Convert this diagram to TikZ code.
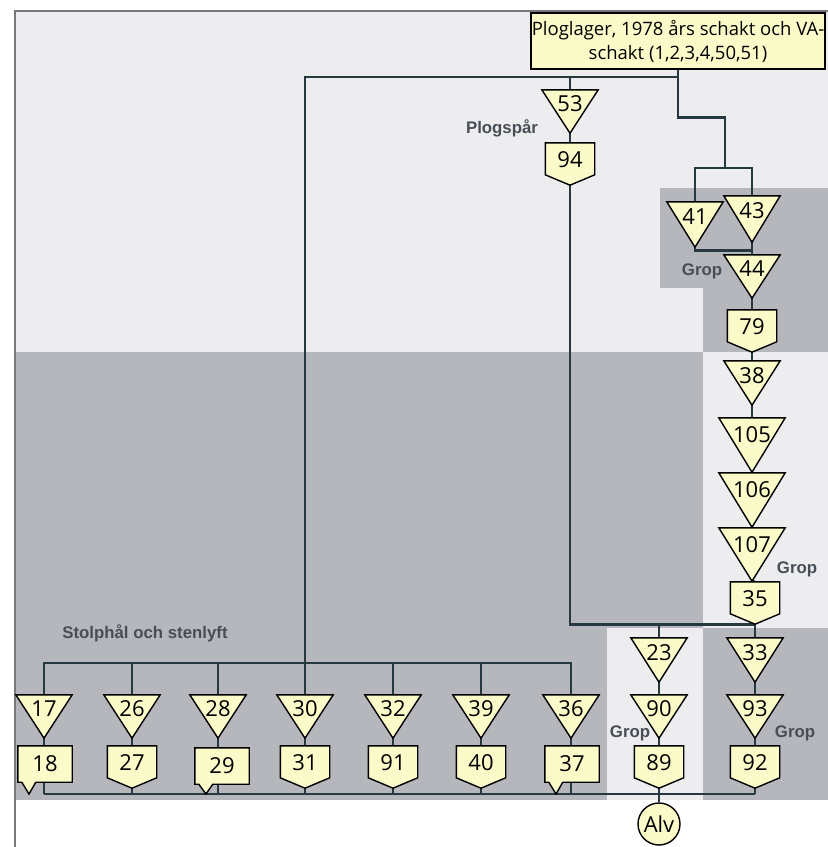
\documentclass[tikz,border=0pt]{standalone}
\usepackage{fontspec}
\setmainfont{Open Sans}
\newfontfamily\lblfont{Liberation Sans}
\usetikzlibrary{calc}
\definecolor{lightbg}{RGB}{237,237,240}
\definecolor{darkbg}{RGB}{181,183,188}
\definecolor{nodefill}{RGB}{251,251,201}
\definecolor{linecol}{RGB}{38,56,64}
\definecolor{lblcol}{RGB}{72,78,86}
\definecolor{framecol}{RGB}{120,120,124}
\pgfdeclarelayer{bg}
\pgfdeclarelayer{lines}
\pgfsetlayers{bg,lines,main}
\newcommand\mkTri[6]{%
  \node[inner sep=0pt, minimum width=#4pt, minimum height=#5pt] (#1) at (#2,#3+#5/2) {};
  \draw[shp] (#1.north west) -- (#1.north east) -- (#1.south) -- cycle;
  \node[numtxt, anchor=base] (#1l) at ($(#1.north)+(0,10+0.28*#5)$) {#6};
}
\newcommand\mkShd[4]{%
  \node[inner sep=0pt, minimum width=49pt, minimum height=42pt] (#1) at (#2,#3+21) {};
  \draw[shp] (#1.north west) -- (#1.north east) -- ++(0,32) -- (#1.south) -- ($(#1.north west)+(0,32)$) -- cycle;
  \node[numtxt, anchor=base] (#1l) at ($(#1.north)+(0,25)$) {#4};
}
\newcommand\mkCal[4]{%
  \node[inner sep=0pt, minimum width=54pt, minimum height=36pt] (#1) at (#2+27,#3+18) {};
  \draw[shp] (#1.north west) -- (#1.north east) -- (#1.south east) -- ($(#1.south west)+(18,0)$) -- (#2+11,794) -- ($(#1.south west)+(4,0)$) -- (#1.south west) -- cycle;
  \node[numtxt, anchor=base] (#1l) at ($(#1.north)+(0,26)$) {#4};
}
\begin{document}
\begin{tikzpicture}[x=1pt,y=-1pt,
  conn/.style={draw=linecol, line width=2.6pt},
  shp/.style={draw=black, fill=nodefill, line width=1.4pt, line join=miter},
  numtxt/.style={inner sep=0pt, font=\fontsize{22}{26}\selectfont},
  lbl/.style={inner sep=0pt, text=lblcol, font=\lblfont\bfseries\fontsize{16.8}{20}\selectfont}]
\useasboundingbox (0,0) rectangle (828,847);
\begin{pgfonlayer}{bg}
  \fill[white] (0,0) rectangle (828,847);
  \fill[lightbg] (14,10) rectangle (828,352);
  \fill[darkbg] (660,188) rectangle (828,288);
  \fill[darkbg] (703,288) rectangle (828,352);
  \fill[darkbg] (14,352) rectangle (703,800);
  \fill[lightbg] (607,628) rectangle (703,800);
  \fill[lightbg] (703,352) rectangle (828,628);
  \fill[darkbg] (703,628) rectangle (828,800);
  \draw[framecol, line width=1.5pt] (14.75,847) -- (14.75,10.75) -- (828,10.75);
\end{pgfonlayer}

% top box
\node[shp, inner sep=0pt, minimum width=294pt, minimum height=56pt, align=center,
      font=\fontsize{18.5}{24}\selectfont] (T) at (678,41)
      {Ploglager, 1978 års schakt och VA-\\schakt (1,2,3,4,50,51)};

% triangles
\mkTri{t53}{570}{90}{56}{43}{53}
\mkTri{t41}{695}{202}{56}{45}{41}
\mkTri{t43}{752}{196}{56}{46}{43}
\mkTri{t44}{752}{255}{56}{43}{44}
\mkTri{t38}{752}{361}{56}{44}{38}
\mkTri{t105}{752}{418}{66}{54}{105}
\mkTri{t106}{752}{473}{66}{54}{106}
\mkTri{t107}{752}{528}{66}{53}{107}
\mkTri{t23}{659}{638}{56}{44}{23}
\mkTri{t33}{755}{638}{56}{44}{33}
\mkTri{t90}{659}{695}{56}{43}{90}
\mkTri{t93}{755}{695}{56}{43}{93}
\mkTri{t17}{44}{695}{56}{43}{17}
\mkTri{t26}{132}{695}{56}{43}{26}
\mkTri{t28}{218}{695}{56}{43}{28}
\mkTri{t30}{305}{695}{56}{43}{30}
\mkTri{t32}{393}{695}{56}{43}{32}
\mkTri{t39}{481}{695}{56}{43}{39}
\mkTri{t36}{571}{695}{56}{43}{36}

% shields
\mkShd{b94}{570}{143}{94}
\mkShd{b79}{752}{310}{79}
\mkShd{b35}{755}{582}{35}
\mkShd{b89}{659}{746}{89}
\mkShd{b92}{755}{746}{92}
\mkShd{b27}{132}{746}{27}
\mkShd{b31}{305}{746}{31}
\mkShd{b91}{393}{746}{91}
\mkShd{b40}{481}{746}{40}

% callouts
\mkCal{c18}{18}{746}{18}
\mkCal{c29}{195}{748}{29}
\mkCal{c37}{545}{746}{37}

% Alv
\node[shp, circle, inner sep=0pt, minimum size=42pt, font=\fontsize{22}{26}\selectfont] (alv) at (659,824) {Alv};

\begin{pgfonlayer}{lines}
  \coordinate (jB) at (678,77);
  \coordinate (jA) at (725,168);
  \coordinate (tb) at (0,663);
  \coordinate (bb) at (0,794);
  % labels
  \node[lbl] (lplog) at (502,128) {Plogspår};
  \node[lbl] (lstolp) at (145,633) {Stolphål och stenlyft};
  \node[lbl] (lg1) at (702,271) {Grop};
  \node[lbl] (lg2) at (797,569) {Grop};
  \node[lbl] (lg3) at (630,733) {Grop};
  \node[lbl] (lg4) at (795,733) {Grop};
  % top
  \draw[conn] (T.south) -- ++(0,48) -| (jA);
  \draw[conn] (t41.north) |- (jA) -| (t43.north);
  \draw[conn] (jB) -| (t30.north);
  \draw[conn] (t53.north) -- (t53.north |- jB);
  \draw[conn] (t53.south) -- (b94.north);
  \draw[conn] (b94.south) |- (b35.south);
  % right column
  \draw[conn] (t41.south) -- ++(0,3) -| (t44.north);
  \draw[conn] (t43.south) -- (t44.north);
  \draw[conn] (t44.south) -- (b79.north);
  \draw[conn] (b79.south) -- (t38.north);
  \draw[conn] (t38.south) -- (t105.north);
  \draw[conn] (t105.south) -- (t106.north);
  \draw[conn] (t106.south) -- (t107.north);
  \draw[conn] (t107.south) -- (b35.north);
  \draw[conn] (b35.south) -- (t33.north);
  \draw[conn] (t33.south) -- (t93.north);
  \draw[conn] (t93.south) -- (b92.north);
  \draw[conn] (b92.south) -- (b92.south |- bb);
  % middle column
  \draw[conn] (t23.north) -- (t23.north |- b35.south);
  \draw[conn] (t23.south) -- (t90.north);
  \draw[conn] (t90.south) -- (b89.north);
  \draw[conn] (b89.south) -- (alv.north);
  % left buses
  \draw[conn] (t17.north) -- (t17.north |- tb) -- (t36.north |- tb) -- (t36.north);
  \draw[conn] (t17.south |- bb) -- (b92.south |- bb);
  \draw[conn] (t17.south) -- (t17.south |- bb);
  \draw[conn] (t36.south) -- (t36.south |- bb);
  \draw[conn] (t26.north) -- (t26.north |- tb);
  \draw[conn] (t28.north) -- (t28.north |- tb);
  \draw[conn] (t32.north) -- (t32.north |- tb);
  \draw[conn] (t39.north) -- (t39.north |- tb);
  \draw[conn] (t26.south) -- (b27.north);
  \draw[conn] (b27.south) -- (b27.south |- bb);
  \draw[conn] (t28.south) -- (t28.south |- bb);
  \draw[conn] (t30.south) -- (b31.north);
  \draw[conn] (b31.south) -- (b31.south |- bb);
  \draw[conn] (t32.south) -- (b91.north);
  \draw[conn] (b91.south) -- (b91.south |- bb);
  \draw[conn] (t39.south) -- (b40.north);
  \draw[conn] (b40.south) -- (b40.south |- bb);
\end{pgfonlayer}
\end{tikzpicture}
\end{document}
